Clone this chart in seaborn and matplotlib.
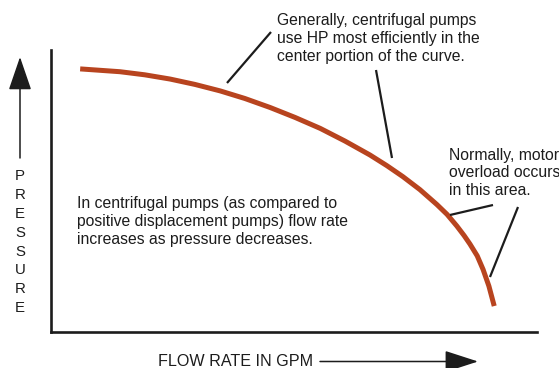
import matplotlib
matplotlib.use("Agg")
import matplotlib.pyplot as plt
import seaborn as sns
import pandas as pd

# Pump performance curve: flow rate vs. pressure (relative units, 0-100)
flow_rate = [6.0, 10.1, 14.2, 19.3, 24.5, 29.6, 34.8, 39.9, 45.1, 50.2, 55.4,
             60.5, 65.6, 69.1, 72.4, 75.9, 79.4, 81.5, 83.5, 85.0, 86.2, 87.7,
             88.9, 90.1, 91.2]
pressure = [93.3, 92.8, 92.3, 91.2, 89.7, 87.8, 85.5, 82.8, 79.6, 76.1, 72.2,
            67.7, 62.8, 59.0, 55.1, 50.5, 45.2, 41.7, 37.6, 34.2, 31.2, 27.0,
            22.2, 16.3, 9.2]

x_label = "FLOW RATE IN GPM"
y_label = "PRESSURE"
note_center = "Generally, centrifugal pumps\nuse HP most efficiently in the\ncenter portion of the curve."
note_overload = "Normally, motor\noverload occurs\nin this area."
note_main = ("In centrifugal pumps (as compared to\npositive displacement pumps) flow rate\n"
             "increases as pressure decreases.")

W, H = 559, 368
sns.set_theme(style="white")
plt.rcParams["font.family"] = ["Liberation Sans", "DejaVu Sans"]

INK = "#1c1c1c"
CURVE = "#b8441f"
FS = 11.3

fig = plt.figure(figsize=(W / 100, H / 100), dpi=100)
fig.patch.set_facecolor("white")

# axes box: left spine at x=51, bottom spine at y=332 (pixels, top-left origin)
L, R, T, B = 51, 537, 50, 332
ax = fig.add_axes([L / W, 1 - B / H, (R - L) / W, (B - T) / H])
ax.set_facecolor("white")

df = pd.DataFrame({"flow": flow_rate, "pressure": pressure})
sns.lineplot(data=df, x="flow", y="pressure", ax=ax, color=CURVE, lw=3.6,
             sort=False, solid_capstyle="butt", solid_joinstyle="round")

ax.set_xlim(0, 100)
ax.set_ylim(0, 100)
ax.set_xticks([])
ax.set_yticks([])
ax.set_xlabel("")
ax.set_ylabel("")
for side in ("top", "right"):
    ax.spines[side].set_visible(False)
for side in ("left", "bottom"):
    ax.spines[side].set_color(INK)
    ax.spines[side].set_linewidth(1.9)


def to_data(px, py):
    return ((px - L) / (R - L) * 100, (B - py) / (B - T) * 100)


def fpos(px, py):
    return (px / W, 1 - py / H)


# leader lines from notes to the curve
leaders = [((227, 83), (271, 32)), ((376, 70), (392, 158)),
           ((450, 215), (493, 205)), ((518, 207), (490, 277))]
for a, b in leaders:
    xa, ya = to_data(*a)
    xb, yb = to_data(*b)
    ax.plot([xa, xb], [ya, yb], color=INK, lw=1.6, clip_on=False,
            solid_capstyle="butt")

# notes
fig.text(*fpos(277, 13), note_center, fontsize=FS, color=INK, va="top",
         ha="left", linespacing=1.27)
fig.text(*fpos(449, 148), note_overload, fontsize=FS, color=INK, va="top",
         ha="left", linespacing=1.2)
fig.text(*fpos(77, 196), note_main, fontsize=FS, color=INK, va="top",
         ha="left", linespacing=1.27)

# vertical axis caption, one letter per line, with an upward arrow
for i, ch in enumerate(y_label):
    fig.text(*fpos(20, 176 + i * 18.9), ch, fontsize=10.8, color=INK,
             ha="center", va="center")
fig.patches.append(matplotlib.patches.FancyArrowPatch(
    fpos(20, 158), fpos(20, 57), transform=fig.transFigure,
    arrowstyle="-|>,head_length=21,head_width=7.2", mutation_scale=1,
    color=INK, lw=1.1, shrinkA=0, shrinkB=0))

# horizontal axis caption with a rightward arrow
fig.text(*fpos(158, 361), x_label, fontsize=11.6, color=INK,
         ha="left", va="center")
fig.patches.append(matplotlib.patches.FancyArrowPatch(
    fpos(320, 361.5), fpos(478, 361.5), transform=fig.transFigure,
    arrowstyle="-|>,head_length=21,head_width=6.8", mutation_scale=1,
    color=INK, lw=1.1, shrinkA=0, shrinkB=0))

fig.savefig("out.png", dpi=100, facecolor="white")
